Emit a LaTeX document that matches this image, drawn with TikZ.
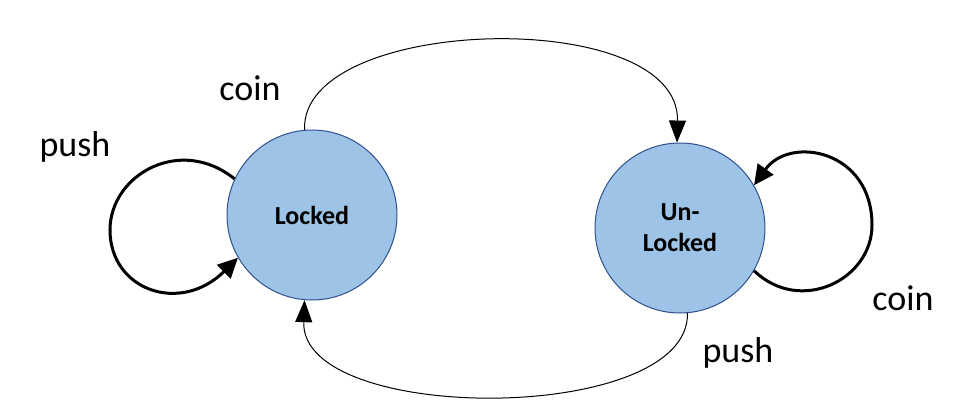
\documentclass[tikz,border=0pt]{standalone}
\usepackage{fontspec}
\setmainfont{Carlito}
\usetikzlibrary{arrows.meta}
\definecolor{stateFill}{RGB}{157,195,230}
\definecolor{stateLine}{RGB}{47,82,143}
\begin{document}
\begin{tikzpicture}[x=1pt,y=-1pt,
  state/.style={circle,draw=stateLine,fill=stateFill,line width=1pt,minimum size=170pt,inner sep=0pt,align=center,font=\fontsize{26}{31}\selectfont\bfseries},
  edge/.style={line width=1pt,-{Triangle[length=22pt,width=17pt]}},
  loop/.style={line width=3pt,-{Triangle[length=20pt,width=19pt]}},
  lbl/.style={font=\fontsize{36}{42}\selectfont}]
\useasboundingbox (0,0) rectangle (954,412);

% states
\node[state] (locked) at (312,215) {Locked};
\node[state] (unlocked) at (680,228) {Un-\\Locked};

% transitions between states
\draw[edge] (locked.95) .. controls (300,15) and (680,5) .. (unlocked.92);
\draw[edge] (unlocked.-85) .. controls (690,425) and (300,425) .. (locked.-95);

% self loops
\draw[loop] (locked.155) .. controls (180,135) and (110,175) .. (110,230) .. controls (110,290) and (180,315) .. (locked.-150);
\draw[loop] (unlocked.-30) .. controls (800,315) and (872,280) .. (872,225) .. controls (872,150) and (790,135) .. (unlocked.30);

% labels
\node[lbl] (coinA) at (250,88) {coin};
\node[lbl] (pushA) at (75,147) {push};
\node[lbl] (coinB) at (903,298) {coin};
\node[lbl] (pushB) at (738,353) {push};
\end{tikzpicture}
\end{document}
